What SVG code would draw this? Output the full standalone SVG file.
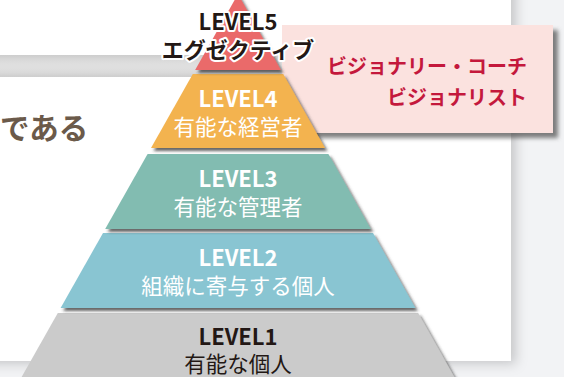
<svg xmlns="http://www.w3.org/2000/svg" width="564" height="377" viewBox="0 0 564 377">
<defs>
<style>
.jp{font-family:"Noto Sans CJK JP","Noto Sans",sans-serif;}
.lv{font-size:22px;font-weight:700;text-anchor:middle;}
.sub{font-size:21.5px;font-weight:400;text-anchor:middle;}
.w{fill:#ffffff;}
.d{fill:#231815;}
.outl{fill:#231815;stroke:#ffffff;stroke-width:4px;stroke-linejoin:round;paint-order:stroke;}
.pk{fill:#c4183c;font-size:20px;font-weight:700;text-anchor:end;}
</style>
<filter id="card" x="-10%" y="-20%" width="130%" height="150%">
<feDropShadow dx="5" dy="3" stdDeviation="6" flood-color="#000" flood-opacity="0.18"/>
</filter>
<filter id="sh" x="-20%" y="-20%" width="140%" height="150%">
<feDropShadow dx="2.5" dy="3" stdDeviation="1.6" flood-color="#333" flood-opacity="0.75"/>
</filter>
<filter id="psh" x="-10%" y="-10%" width="125%" height="130%">
<feDropShadow dx="5" dy="5" stdDeviation="2" flood-color="#555" flood-opacity="0.75"/>
</filter>
<linearGradient id="band" x1="0" y1="0" x2="0" y2="1">
<stop offset="0" stop-color="#ececec"/>
<stop offset="1" stop-color="#d9d9d9"/>
</linearGradient>
</defs>
<rect x="0" y="0" width="564" height="377" fill="#f2f3f5"/>
<g id="background">
<rect x="0" y="55" width="511" height="22" fill="url(#band)"/>
<rect x="-20" y="-20" width="531" height="75" fill="#ffffff" filter="url(#card)"/>
<rect x="-20" y="77" width="531" height="284" fill="#ffffff" filter="url(#card)"/>
<text class="jp" x="0" y="139" font-size="29.5" font-weight="700" fill="#6b5a4a">である</text>
</g>
<g id="callout">
<rect x="282" y="25" width="271" height="108" fill="#fbe2df" filter="url(#psh)"/>
<text class="jp pk" x="527" y="74">ビジョナリー・コーチ</text>
<text class="jp pk" x="527" y="105">ビジョナリスト</text>
</g>
<g id="connectors"></g>
<g id="level1">
<polygon points="57.8,313 418.2,313 461.7,390 14.3,390" fill="#cbcbcb" filter="url(#sh)"/>
<text class="jp lv d" x="238" y="345">LEVEL1</text>
<text class="jp sub d" x="238" y="372">有能な個人</text>
</g>
<g id="level2">
<polygon points="103,233 373,233 415.4,308 60.6,308" fill="#89c5d2" filter="url(#sh)"/>
<text class="jp lv w" x="238" y="266">LEVEL2</text>
<text class="jp sub w" x="238" y="294">組織に寄与する個人</text>
</g>
<g id="level3">
<polygon points="147.6,154 328.4,154 370.8,229 105.2,229" fill="#82bcb1" filter="url(#sh)"/>
<text class="jp lv w" x="238" y="187">LEVEL3</text>
<text class="jp sub w" x="238" y="215">有能な管理者</text>
</g>
<g id="level4">
<polygon points="192.8,74 283.2,74 325,148 151,148" fill="#f3b34f" filter="url(#sh)"/>
<text class="jp lv w" x="238" y="107">LEVEL4</text>
<text class="jp sub w" x="238" y="135">有能な経営者</text>
</g>
<g id="level5">
<polygon points="238,-6 280.9,70 195.1,70" fill="#ea6b6b" filter="url(#sh)"/>
<text class="jp lv outl" x="238" y="30">LEVEL5</text>
<text class="jp lv outl" x="238" y="58">エグゼクティブ</text>
</g>
</svg>
